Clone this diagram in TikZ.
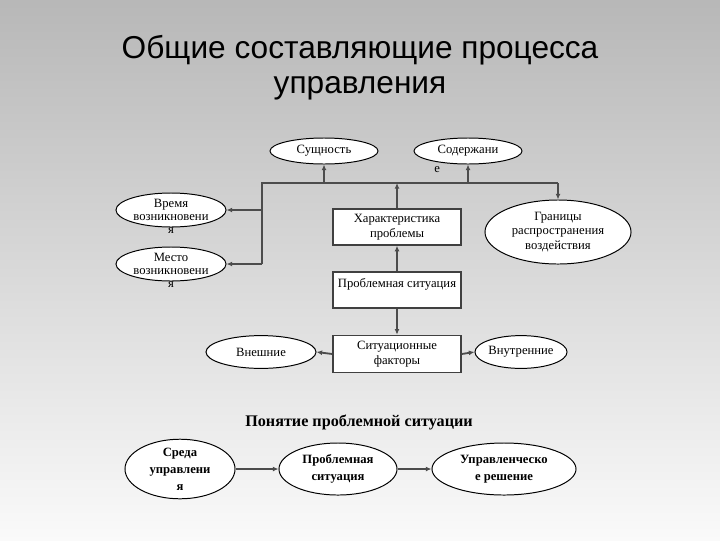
\documentclass[tikz,border=0pt]{standalone}
\usepackage{fontspec}
\setmainfont{Liberation Serif}
\newfontfamily\titlefont{Liberation Sans}
\usetikzlibrary{arrows.meta,positioning,shapes.geometric}

\begin{document}
\begin{tikzpicture}[x=0.025cm,y=-0.025cm,
  oval/.style={draw,ellipse,fill=white,line width=0.7pt,inner sep=0pt,align=center,
    font=\fontsize{9}{8.8}\selectfont},
  tail/.style={anchor=center,inner sep=0pt,font=\fontsize{9}{10}\selectfont},
  bigoval/.style={oval,minimum width=2.85cm,minimum height=1.3cm,
    font=\fontsize{9}{12}\selectfont\bfseries},
  box/.style={draw=black!75,fill=white,line width=1pt,minimum width=3.2cm,minimum height=0.9cm,
    align=center,font=\fontsize{9}{10.5}\selectfont},
  conn/.style={draw=black!70,line width=1.3pt},
  arr/.style={conn,-{Latex[length=4pt,width=3.5pt]}}]
% фон
\shade[top color=black!28,bottom color=black!2] (0,0) rectangle (720,540);
\useasboundingbox (0,0) rectangle (720,540);

\node[font=\titlefont\fontsize{22.5}{25}\selectfont,align=center] (title) at (360,68)
  {Общие составляющие процесса\\управления};

% верхняя схема
\node[oval,minimum width=2.7cm,minimum height=0.65cm] (sush) at (324,151) {Сущность};
\node[oval,minimum width=2.7cm,minimum height=0.65cm,
  label={[tail,xshift=-22pt,yshift=-3.5pt]south:е}] (sod) at (468,151) {Содержани};
\node[oval,minimum width=2.75cm,minimum height=0.85cm,
  label={[tail,yshift=-2pt]south:я}] (vremya) at (171,210) {Время\\возникновени};
\node[oval,minimum width=2.75cm,minimum height=0.85cm,
  label={[tail,yshift=-2pt]south:я}] (mesto) at (171,264) {Место\\возникновени};
\node[oval,minimum width=3.65cm,minimum height=1.6cm,font=\fontsize{9}{10.5}\selectfont]
  (gran) at (558,232) {Границы\\распространения\\воздействия};

\node[box] (harakt) at (397,227) {Характеристика\\проблемы};
\node[box] (probl) at (397,290) {\raisebox{4pt}[0.7em][0.2em]{Проблемная ситуация}};
\node[box,minimum height=0.93cm,font=\fontsize{9}{11}\selectfont] (sitfakt) at (397,354) {Ситуационные\\факторы};
\node[oval,minimum width=2.75cm,minimum height=0.82cm] (vnesh) at (261,352) {Внешние};
\node[oval,minimum width=2.2cm,minimum height=0.82cm] (vnutr) at (521,352) {Внутренние};

\coordinate (busL) at (262,183);
\coordinate (busR) at (558,183);
\draw[conn] (busL |- mesto) -- (busL) -- (busR);
\draw[arr] (sush.south |- busL) -- (sush.south);
\draw[arr] (sod.south |- busL) -- (sod.south);
\draw[arr] (busR) -- (gran.north);
\draw[arr] (busL |- vremya) -- (vremya.east);
\draw[arr] (busL |- mesto) -- (mesto.east);
\draw[arr] (harakt.north) -- (harakt.north |- busL);
\draw[arr] (probl.north) -- (harakt.south);
\draw[arr] (probl.south) -- (sitfakt.north);
\draw[arr] (sitfakt.west) -- (vnesh.east);
\draw[arr] (sitfakt.east) -- (vnutr.west);

% нижняя схема
\node[font=\fontsize{11.5}{13}\selectfont\bfseries] (ponyatie) at (359,422) {Понятие проблемной ситуации};
\node[bigoval,minimum width=2.75cm] (sreda) at (180,469) {Среда\\управлени\\я};
\node[bigoval,minimum width=2.95cm] (probsit) at (338,469) {Проблемная\\ситуация};
\node[bigoval,minimum width=3.6cm] (upr) at (504,469) {Управленческо\\е решение};
\draw[arr,line width=1pt] (sreda) -- (probsit);
\draw[arr,line width=1pt] (probsit) -- (upr);
\end{tikzpicture}
\end{document}
